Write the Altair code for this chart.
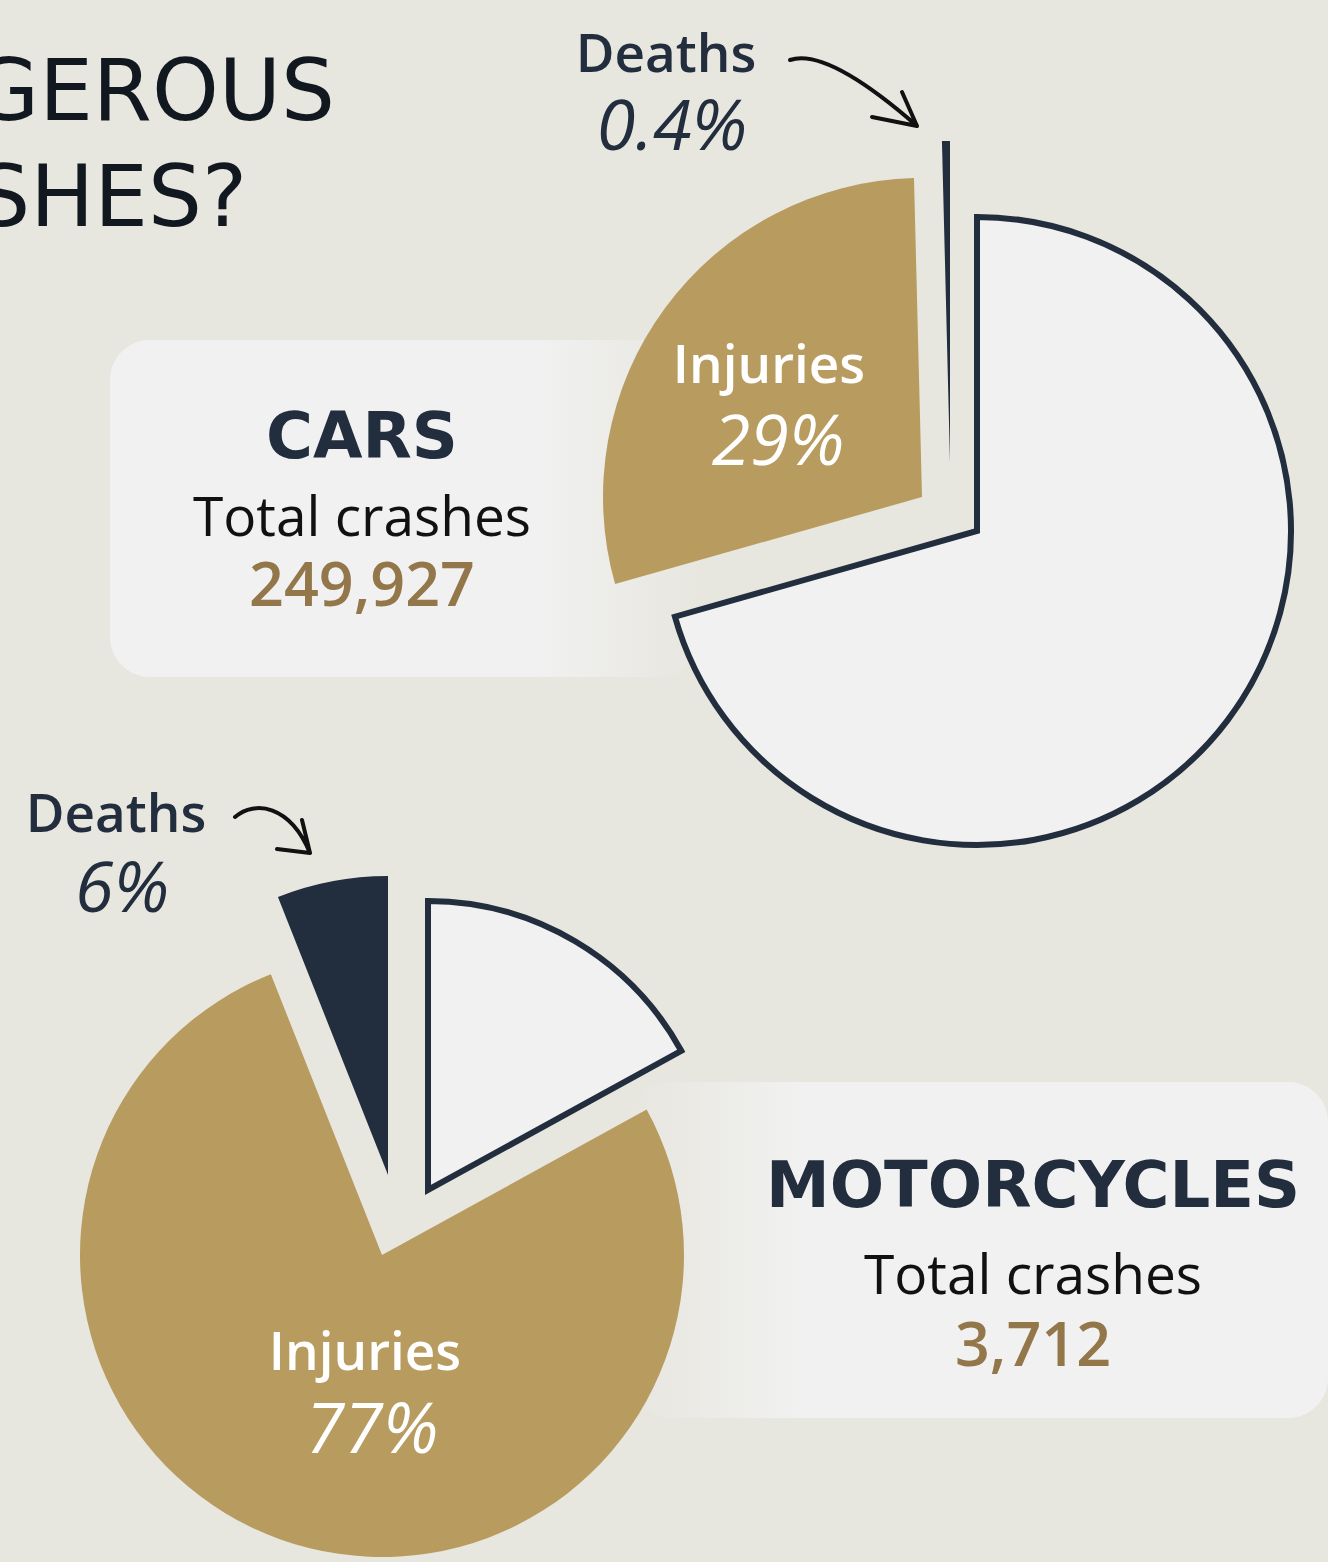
import altair as alt
import pandas as pd

# ---------------- data ----------------
vehicles = ["CARS", "MOTORCYCLES"]
total_crashes = [249927, 3712]
categories = ["No injury", "Injuries", "Deaths"]
cars_share = [70.6, 29.0, 0.4]
moto_share = [17.0, 77.0, 6.0]
title_fragments = ["GEROUS", "SHES?"]
subtitle = ["Total crashes"]

# ---------------- colours ----------------
BG = "#E7E6DF"
NAVY = "#222D3D"
GOLD = "#B89B5F"
PANEL = "#F1F1F1"
BROWN = "#93774A"
INK = "#111820"

rows = []
for v, shares in zip(vehicles, [cars_share, moto_share]):
    start = 0.0
    for c, s in zip(categories, shares):
        rows.append(dict(vehicle=v, category=c, share=s, start=start, end=start + s,
                         pct=f"{s:g}%"))
        start += s
slices = pd.DataFrame(rows)
totals = pd.DataFrame({"vehicle": vehicles, "total": total_crashes})

# per-slice placement (exploded pie layout)
slice_style = {
    ("CARS", "No injury"): dict(cx=977, cy=531, r=314, fill=PANEL, stroke=NAVY),
    ("CARS", "Injuries"): dict(cx=922, cy=497, r=319, fill=GOLD, stroke=None),
    ("CARS", "Deaths"): dict(cx=950, cy=462, r=321, fill=NAVY, stroke=None),
    ("MOTORCYCLES", "No injury"): dict(cx=428, cy=1190, r=289, fill=PANEL, stroke=NAVY),
    ("MOTORCYCLES", "Injuries"): dict(cx=382, cy=1255, r=302, fill=GOLD, stroke=None),
    ("MOTORCYCLES", "Deaths"): dict(cx=388, cy=1175, r=299, fill=NAVY, stroke=None),
}

label_style = {
    ("CARS", "Injuries"): dict(nx=769, ny=383, px=778, py=465, color="#FFFFFF"),
    ("CARS", "Deaths"): dict(nx=666, ny=72, px=672, py=150, color=NAVY),
    ("MOTORCYCLES", "Deaths"): dict(nx=116, ny=832, px=122, py=912, color=NAVY),
    ("MOTORCYCLES", "Injuries"): dict(nx=365, ny=1370, px=372, py=1453, color="#FFFFFF"),
}

heading_pos = {
    "CARS": dict(x=362, y1=458, y2=536, y3=606),
    "MOTORCYCLES": dict(x=1033, y1=1207, y2=1294, y3=1366),
}

one = pd.DataFrame({"k": [0]})
layers = []

# ---------------- background panels ----------------
panel1 = alt.Chart(one).mark_rect(
    cornerRadius=40,
    fill=alt.LinearGradient(
        gradient="linear", x1=0, x2=1, y1=0, y2=0,
        stops=[alt.GradientStop(color=PANEL, offset=0),
               alt.GradientStop(color=PANEL, offset=0.72),
               alt.GradientStop(color=BG, offset=1)]),
).encode(x=alt.value(110), x2=alt.value(700), y=alt.value(340), y2=alt.value(677))
panel2 = alt.Chart(one).mark_rect(
    cornerRadius=40,
    fill=alt.LinearGradient(
        gradient="linear", x1=0, x2=1, y1=0, y2=0,
        stops=[alt.GradientStop(color=BG, offset=0),
               alt.GradientStop(color=PANEL, offset=0.25),
               alt.GradientStop(color=PANEL, offset=1)]),
).encode(x=alt.value(630), x2=alt.value(1328), y=alt.value(1082), y2=alt.value(1418))
layers += [panel1, panel2]

# ---------------- pie slices ----------------
theta_scale = alt.Scale(domain=[0, 100], range=[0, 6.283185307])
for (v, c), st in slice_style.items():
    kw = dict(radius=st["r"], fill=st["fill"])
    if st["stroke"]:
        kw.update(stroke=st["stroke"], strokeWidth=6, strokeJoin="miter")
    layers.append(
        alt.Chart(slices)
        .transform_filter((alt.datum.vehicle == v) & (alt.datum.category == c))
        .mark_arc(**kw)
        .encode(theta=alt.Theta("start:Q", scale=theta_scale),
                theta2=alt.Theta2("end:Q"),
                x=alt.value(st["cx"]), y=alt.value(st["cy"]))
    )

# ---------------- slice labels ----------------
for (v, c), st in label_style.items():
    base = alt.Chart(slices).transform_filter((alt.datum.vehicle == v) & (alt.datum.category == c))
    layers.append(base.mark_text(font="Open Sans", fontSize=53, fontWeight=600, color=st["color"],
                                 align="center", baseline="alphabetic")
                  .encode(text="category:N", x=alt.value(st["nx"]), y=alt.value(st["ny"])))
    layers.append(base.mark_text(font="Open Sans", fontSize=70, fontStyle="italic", fontWeight=400,
                                 color=st["color"], align="center", baseline="alphabetic")
                  .encode(text="pct:N", x=alt.value(st["px"]), y=alt.value(st["py"])))

# ---------------- headings ----------------
sub_df = pd.DataFrame({"t": subtitle})
for v, pos in heading_pos.items():
    base = alt.Chart(totals).transform_filter(alt.datum.vehicle == v)
    layers.append(base.mark_text(font="DejaVu Sans", fontSize=64, fontWeight="bold", color=NAVY,
                                 align="center", baseline="alphabetic")
                  .encode(text="vehicle:N", x=alt.value(pos["x"]), y=alt.value(pos["y1"])))
    layers.append(alt.Chart(sub_df).mark_text(font="Open Sans", fontSize=55, color="#111111",
                                              align="center", baseline="alphabetic")
                  .encode(text="t:N", x=alt.value(pos["x"]), y=alt.value(pos["y2"])))
    layers.append(base.mark_text(font="Open Sans", fontSize=61, fontWeight=600, color=BROWN,
                                 align="center", baseline="alphabetic")
                  .encode(text=alt.Text("total:Q", format=","), x=alt.value(pos["x"]),
                          y=alt.value(pos["y3"])))

# ---------------- title fragments ----------------
title_df = pd.DataFrame({"t": title_fragments, "i": [0, 1]})
for i, (xr, yb) in enumerate([(335, 120), (247, 226)]):
    layers.append(alt.Chart(title_df).transform_filter(alt.datum.i == i)
                  .mark_text(font="DejaVu Sans", fontSize=85, fontWeight="normal", color=INK,
                             align="right", baseline="alphabetic")
                  .encode(text="t:N", x=alt.value(xr), y=alt.value(yb)))

# ---------------- hand-drawn arrows ----------------
arrow_top = ("M -0.65 -0.30 C -0.35 -0.40 0.15 -0.05 0.62 0.36 "
             "M 0.17 0.27 L 0.62 0.36 L 0.47 0.02")
arrow_bottom = ("M -0.35 -0.13 C -0.15 -0.30 0.20 -0.25 0.40 0.23 "
                "M 0.07 0.19 L 0.40 0.23 L 0.32 -0.10")
for shape, cx, cy in [(arrow_top, 855, 90), (arrow_bottom, 270, 830)]:
    layers.append(alt.Chart(one).mark_point(shape=shape, size=40000, filled=False, opacity=1,
                                            stroke="#111111", strokeWidth=4, strokeCap="round",
                                            strokeJoin="round")
                  .encode(x=alt.value(cx), y=alt.value(cy)))

chart = (
    alt.layer(*layers)
    .properties(width=1328, height=1562, autosize=alt.AutoSizeParams(type="none"), padding=0)
    .configure(background=BG)
    .configure_view(stroke=None)
)

chart.save("out.html", embed_options={"renderer": "svg", "actions": False})
